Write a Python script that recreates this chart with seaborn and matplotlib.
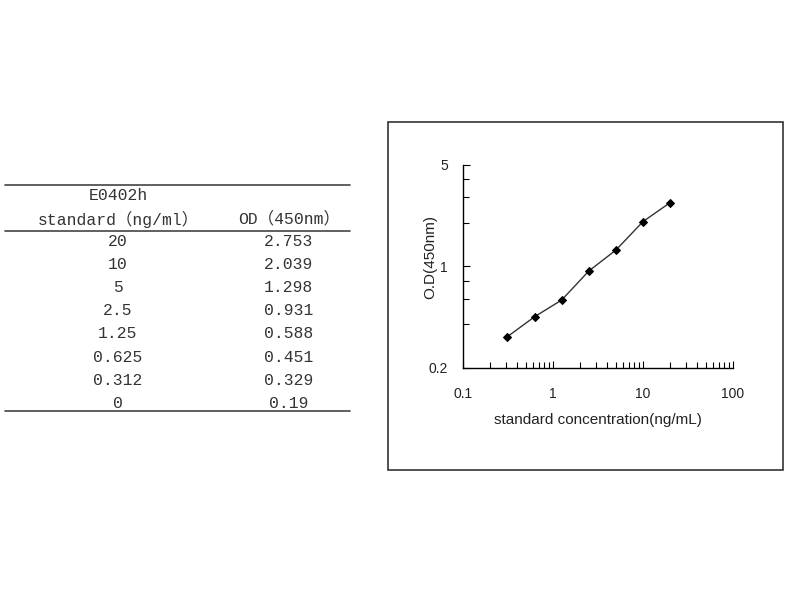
import matplotlib
matplotlib.use("Agg")
import matplotlib.pyplot as plt
from matplotlib.patches import Rectangle
from matplotlib.ticker import FixedLocator, NullFormatter
import seaborn as sns
import pandas as pd

# table data
std_labels = ["20", "10", "5", "2.5", "1.25", "0.625", "0.312", "0"]
od_labels = ["2.753", "2.039", "1.298", "0.931", "0.588", "0.451", "0.329", "0.19"]

# curve data (the 0 standard cannot go on a log axis)
conc = [0.312, 0.625, 1.25, 2.5, 5, 10, 20]
od = [0.329, 0.451, 0.588, 0.931, 1.298, 2.039, 2.753]

y_major = [0.2, 1, 5]
y_minor = [0.4, 0.6, 0.8, 2, 3, 4]
x_major = [0.1, 1, 10, 100]

sns.set_style("white")
plt.rcParams["font.family"] = ["Liberation Sans", "DejaVu Sans"]

fig = plt.figure(figsize=(8, 6), dpi=100)

# ---- table on the left (pixel coordinates of the figure) ----
tab = fig.add_axes([0, 0, 1, 1])
tab.set_xlim(0, 800)
tab.set_ylim(600, 0)
tab.axis("off")
tab_font = ["Liberation Mono", "Noto Sans CJK SC"]
line_c = "#444444"
txt_c = "#333333"
fs = 11.8
for yy in [185, 231, 411]:
    tab.plot([5, 350], [yy, yy], color=line_c, lw=1.2)
tab.text(118, 195, "E0402h", ha="center", va="center", fontsize=fs,
         family=tab_font, color=txt_c)
tab.text(118, 219, "standard（ng/ml）", ha="center", va="center", fontsize=fs,
         family=tab_font, color=txt_c)
tab.text(289, 219, "OD（450nm）", ha="center", va="center", fontsize=fs,
         family=tab_font, color=txt_c)
row_y0, row_h = 241, 23.2
for i, (s, o) in enumerate(zip(std_labels, od_labels)):
    y = row_y0 + i * row_h
    tab.text(118, y, s, ha="center", va="center", fontsize=fs,
             family=tab_font, color=txt_c)
    tab.text(289, y, o, ha="center", va="center", fontsize=fs,
             family=tab_font, color=txt_c)

# frame around the chart
fig.patches.append(Rectangle((388 / 800, 1 - 470 / 600), 395 / 800, 348 / 600,
                             transform=fig.transFigure, fill=False,
                             edgecolor="#333333", lw=1.2))

# ---- standard curve ----
ax = fig.add_axes([463 / 800, 1 - 368 / 600, 270 / 800, 203 / 600])
df = pd.DataFrame({"conc": conc, "od": od})
sns.lineplot(data=df, x="conc", y="od", ax=ax, color="#333333", lw=1,
             marker="D", markersize=4, markerfacecolor="black",
             markeredgecolor="black")
ax.set_xscale("log")
ax.set_yscale("log")
ax.set_xlim(0.1, 100)
ax.set_ylim(0.2, 5)
ax.set_xticks(x_major)
ax.set_xticklabels(["0.1", "1", "10", "100"])
ax.set_yticks(y_major)
ax.set_yticklabels(["0.2", "1", "5"])
ax.yaxis.set_minor_locator(FixedLocator(y_minor))
ax.yaxis.set_minor_formatter(NullFormatter())
ax.xaxis.set_minor_formatter(NullFormatter())
ax.tick_params(which="both", direction="in", color="black", width=0.8,
               bottom=True, left=True)
ax.tick_params(which="major", length=5)
ax.tick_params(which="minor", length=4)
ax.tick_params(axis="x", which="major", pad=14, labelsize=10, labelcolor="#222222")
ax.tick_params(axis="y", which="major", pad=11, labelsize=10, labelcolor="#222222")
for s in ["top", "right"]:
    ax.spines[s].set_visible(False)
for s in ["left", "bottom"]:
    ax.spines[s].set_color("black")
    ax.spines[s].set_linewidth(1)
ax.set_xlabel("standard concentration(ng/mL)", fontsize=11, color="#222222", labelpad=8)
ax.set_ylabel("O.D(450nm)", fontsize=11, color="#222222")
ax.yaxis.set_label_coords(-0.096, 0.547)

fig.savefig("out.png", dpi=100)
